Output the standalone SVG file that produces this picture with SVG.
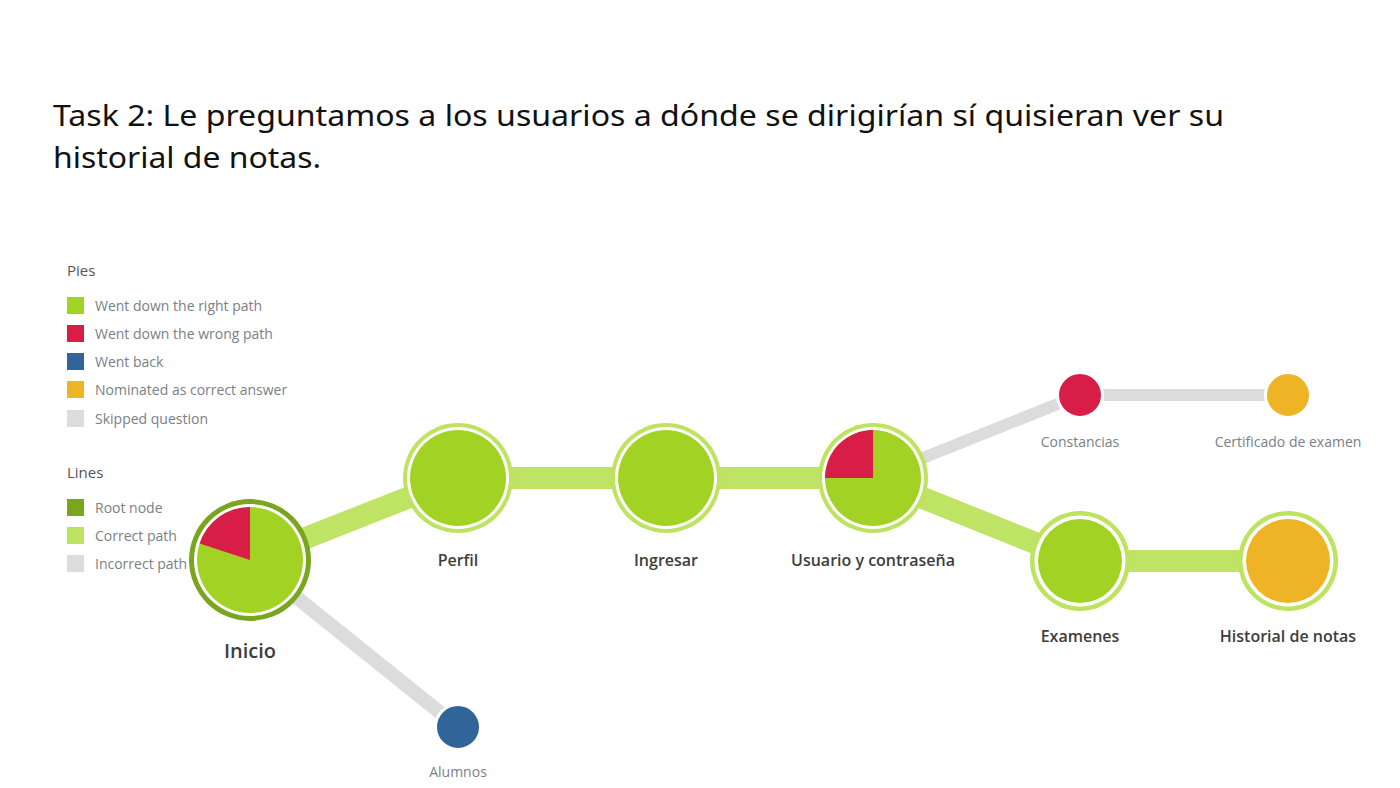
<svg xmlns="http://www.w3.org/2000/svg" width="1400" height="788" viewBox="0 0 1400 788">
<style>
.title{font-family:"Noto Sans","Open Sans",sans-serif;font-size:29px;fill:#111}
.lh{font-family:"Open Sans","Liberation Sans",sans-serif;font-size:15px;fill:#555}
.lt{font-family:"Open Sans","Liberation Sans",sans-serif;font-size:14px;fill:#7a7f85}
.nl{font-family:"Open Sans","Liberation Sans",sans-serif;font-size:16px;font-weight:600;fill:#3d3d3d;text-anchor:middle}
.nlb{font-family:"Open Sans","Liberation Sans",sans-serif;font-size:20px;font-weight:600;fill:#3d3d3d;text-anchor:middle}
.sl{font-family:"Open Sans","Liberation Sans",sans-serif;font-size:14px;fill:#7a7f85;text-anchor:middle}
.ok{stroke:#bfe364;stroke-width:22;fill:none}
.bad{stroke:#dcdcdc;fill:none}
.ring{fill:#bde360}
.root{fill:#7aa51e}
.gap{fill:#fff}
.g{fill:#a2d324}
.r{fill:#d81e47}
.b{fill:#31659a}
.o{fill:#efb426}
.small{stroke:#fff;stroke-width:3}
</style>
<rect width="1400" height="788" fill="#fff"/>
<g id="title">
<text class="title" x="53" y="126" textLength="1171" lengthAdjust="spacingAndGlyphs">Task 2: Le preguntamos a los usuarios a dónde se dirigirían sí quisieran ver su</text>
<text class="title" x="53" y="168" textLength="268" lengthAdjust="spacingAndGlyphs">historial de notas.</text>
</g>
<g id="legend">
<text class="lh" x="67" y="276">Pies</text>
<rect x="67" y="297" width="17" height="17" fill="#a2d324"/><text class="lt" x="95" y="311">Went down the right path</text>
<rect x="67" y="325" width="17" height="17" fill="#d81e47"/><text class="lt" x="95" y="339">Went down the wrong path</text>
<rect x="67" y="353" width="17" height="17" fill="#31659a"/><text class="lt" x="95" y="367">Went back</text>
<rect x="67" y="381" width="17" height="17" fill="#efb426"/><text class="lt" x="95" y="395">Nominated as correct answer</text>
<rect x="67" y="410" width="17" height="17" fill="#dcdcdc"/><text class="lt" x="95" y="424">Skipped question</text>
<text class="lh" x="67" y="478">Lines</text>
<rect x="67" y="499" width="17" height="17" fill="#7aa51e"/><text class="lt" x="95" y="513">Root node</text>
<rect x="67" y="527" width="17" height="17" fill="#bde360"/><text class="lt" x="95" y="541">Correct path</text>
<rect x="67" y="555" width="17" height="17" fill="#dcdcdc"/><text class="lt" x="95" y="569">Incorrect path</text>
</g>
<g id="connectors">
<line class="bad" x1="250" y1="560" x2="458" y2="727" stroke-width="14"/>
<line class="bad" x1="873" y1="478" x2="1080" y2="395" stroke-width="12"/>
<line class="bad" x1="1080" y1="395" x2="1288" y2="395" stroke-width="12"/>
<line class="ok" x1="250" y1="560" x2="458" y2="478"/>
<line class="ok" x1="458" y1="478" x2="873" y2="478"/>
<line class="ok" x1="873" y1="478" x2="1080" y2="561"/>
<line class="ok" x1="1080" y1="561" x2="1288" y2="561"/>
</g>
<g id="node-inicio">
<circle class="root" cx="250" cy="560" r="61"/>
<circle class="gap" cx="250" cy="560" r="56"/>
<circle class="g" cx="250" cy="560" r="53"/>
<path class="r" d="M250,560 L250,507 A53,53 0 0 0 199.6,543.6 Z"/>
<text class="nlb" x="250" y="658">Inicio</text>
</g>
<g id="node-perfil">
<circle class="ring" cx="458" cy="478" r="55"/>
<circle class="gap" cx="458" cy="478" r="51"/>
<circle class="g" cx="458" cy="478" r="48"/>
<text class="nl" x="458" y="566">Perfil</text>
</g>
<g id="node-ingresar">
<circle class="ring" cx="666" cy="478" r="55"/>
<circle class="gap" cx="666" cy="478" r="51"/>
<circle class="g" cx="666" cy="478" r="48"/>
<text class="nl" x="666" y="566">Ingresar</text>
</g>
<g id="node-usuario">
<circle class="ring" cx="873" cy="478" r="55"/>
<circle class="gap" cx="873" cy="478" r="51"/>
<circle class="g" cx="873" cy="478" r="48"/>
<path class="r" d="M873,478 L873,430 A48,48 0 0 0 825,478 Z"/>
<text class="nl" x="873" y="566">Usuario y contraseña</text>
</g>
<g id="node-examenes">
<circle class="ring" cx="1080" cy="561" r="50"/>
<circle class="gap" cx="1080" cy="561" r="45.5"/>
<circle class="g" cx="1080" cy="561" r="42"/>
<text class="nl" x="1080" y="642">Examenes</text>
</g>
<g id="node-historial">
<circle class="ring" cx="1288" cy="561" r="50"/>
<circle class="gap" cx="1288" cy="561" r="45.5"/>
<circle class="o" cx="1288" cy="561" r="42"/>
<text class="nl" x="1288" y="642">Historial de notas</text>
</g>
<g id="node-constancias">
<circle class="r small" cx="1080" cy="395" r="22.5"/>
<text class="sl" x="1080" y="447">Constancias</text>
</g>
<g id="node-certificado">
<circle class="o small" cx="1288" cy="395" r="22.5"/>
<text class="sl" x="1288" y="447">Certificado de examen</text>
</g>
<g id="node-alumnos">
<circle class="b small" cx="458" cy="727" r="22.5"/>
<text class="sl" x="458" y="777">Alumnos</text>
</g>
</svg>
